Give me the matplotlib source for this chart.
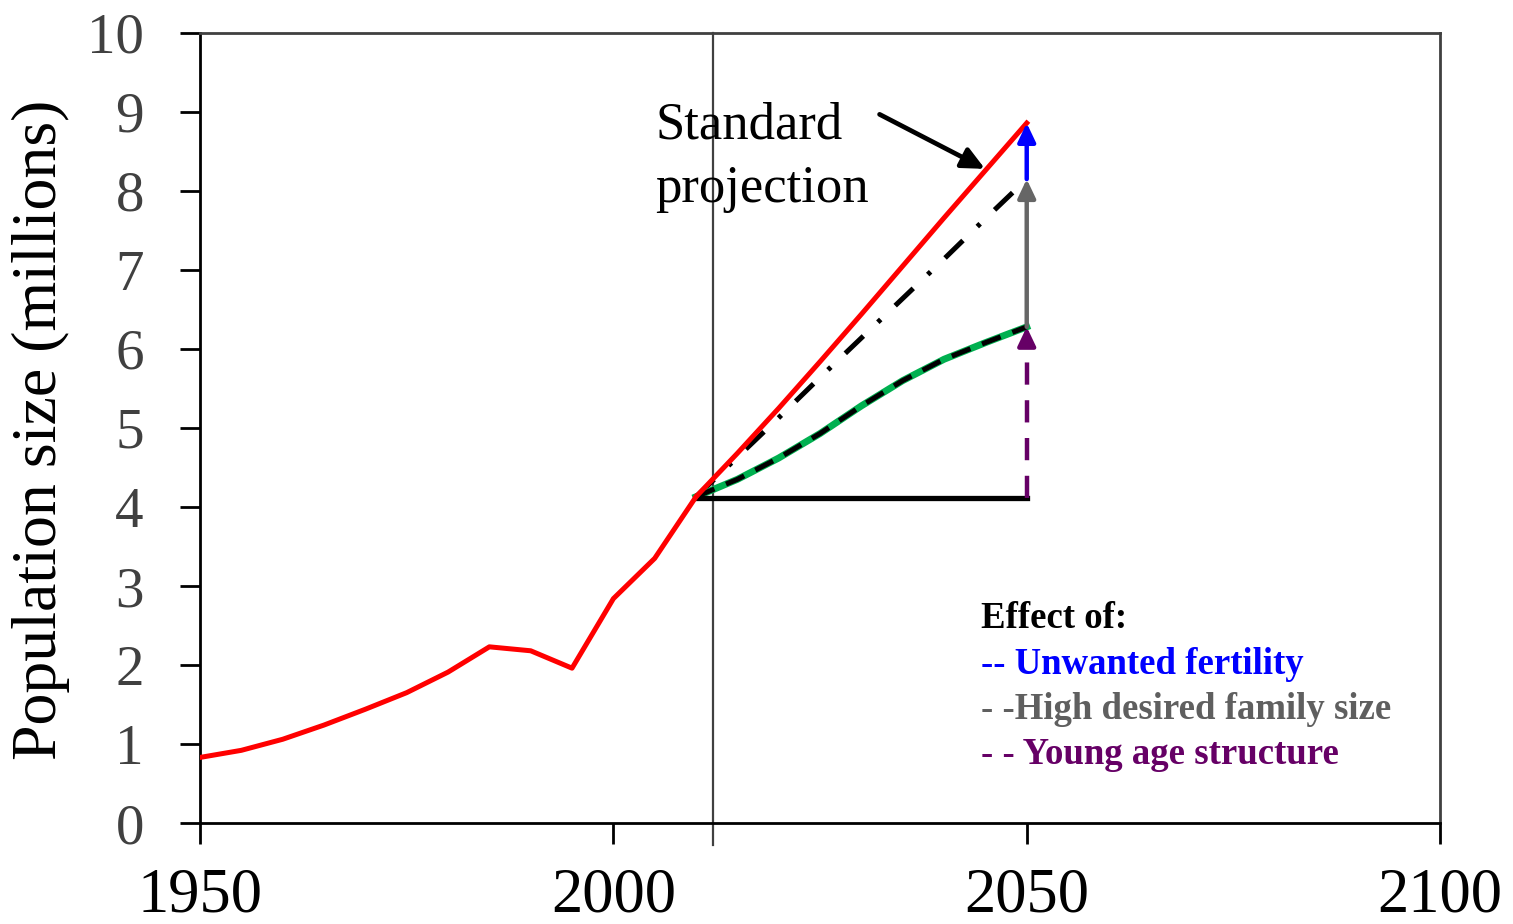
import matplotlib

matplotlib.use("Agg")

import matplotlib.pyplot as plt

# historical series (millions)
hist_years = [1950, 1955, 1960, 1965, 1970, 1975, 1980, 1985, 1990, 1995, 2000, 2005, 2010]
hist_pop = [0.83, 0.92, 1.06, 1.24, 1.44, 1.65, 1.91, 2.23, 2.18, 1.96, 2.84, 3.35, 4.13]

# projections 2010-2050
proj_years = [2010, 2015, 2020, 2025, 2030, 2035, 2040, 2045, 2050]
standard_proj = [4.13, 4.68, 5.25, 5.84, 6.44, 7.05, 7.66, 8.26, 8.86]
no_unwanted_proj = [4.13, 4.63, 5.13, 5.64, 6.14, 6.64, 7.14, 7.65, 8.15]
replacement_proj = [4.13, 4.35, 4.62, 4.93, 5.28, 5.60, 5.87, 6.08, 6.28]
momentum_years = [2010, 2050]
momentum_level = [4.12, 4.12]

base_year = 2012
end_year = 2050

legend_title = "Effect of:"
legend_lines = ["-- Unwanted fertility", "- -High desired family size", "- - Young age structure"]
legend_colors = ["#0000FF", "#5F5F5F", "#660066"]

plt.rcParams["font.family"] = ["Liberation Serif", "DejaVu Serif"]

fig = plt.figure(figsize=(15.13, 9.24), dpi=100)
ax = fig.add_axes([0.1322, 0.1093, 0.8196, 0.855])

ax.plot(hist_years, hist_pop, color="#FF0000", linewidth=3.6, zorder=4)
ax.plot(proj_years, standard_proj, color="#FF0000", linewidth=3.6, zorder=4)
ax.plot(proj_years, no_unwanted_proj, color="black", linewidth=3.6,
        linestyle=(0, (5, 4, 0.8, 4)), zorder=3)
ax.plot(proj_years, replacement_proj, color="#00B050", linewidth=5.0, zorder=3)
ax.plot(proj_years, replacement_proj, color="black", linewidth=3.6,
        linestyle=(0, (4, 2.5)), zorder=3)
ax.plot(momentum_years, momentum_level, color="black", linewidth=3.8, zorder=3)

head = "-|>,head_length=0.8,head_width=0.38"

# effect arrows at 2050
ax.annotate("", xy=(end_year, standard_proj[-1]), xytext=(end_year, no_unwanted_proj[-1]),
            arrowprops=dict(arrowstyle=head, mutation_scale=14, color="#0000FF",
                            linewidth=3.2, shrinkA=0, shrinkB=0), zorder=5)
ax.annotate("", xy=(end_year, no_unwanted_proj[-1]), xytext=(end_year, replacement_proj[-1]),
            arrowprops=dict(arrowstyle=head, mutation_scale=14, color="#666666",
                            linewidth=3.2, shrinkA=0, shrinkB=0), zorder=5)
ax.plot([end_year, end_year], [momentum_level[-1], replacement_proj[-1] - 0.2],
        color="#660066", linewidth=3.2, linestyle=(0, (5, 3.5)), zorder=5)
ax.annotate("", xy=(end_year, replacement_proj[-1]), xytext=(end_year, replacement_proj[-1] - 0.25),
            arrowprops=dict(arrowstyle=head, mutation_scale=14, color="#660066",
                            linewidth=3.2, shrinkA=0, shrinkB=0), zorder=5)

# base year marker line, runs below the axis like a tick
ax.plot([base_year, base_year], [-0.28, 10], color="#404040", linewidth=1.6,
        clip_on=False, zorder=2)

ax.text(0.367, 0.867, "Standard", transform=ax.transAxes, fontsize=38,
        va="baseline", ha="left")
ax.text(0.367, 0.786, "projection", transform=ax.transAxes, fontsize=38,
        va="baseline", ha="left")
ax.annotate("", xy=(0.633, 0.828), xytext=(0.548, 0.897), xycoords="axes fraction",
            arrowprops=dict(arrowstyle=head, mutation_scale=17, color="black",
                            linewidth=3.4, shrinkA=0, shrinkB=0))

ax.text(0.63, 0.259, legend_title, transform=ax.transAxes, fontsize=26.5,
        fontweight="bold", color="black", va="center", ha="left")
for i, (txt, col) in enumerate(zip(legend_lines, legend_colors)):
    ax.text(0.63, 0.201 - i * 0.057, txt, transform=ax.transAxes, fontsize=26.5,
            fontweight="bold", color=col, va="center", ha="left")

ax.set_xlim(1950, 2100)
ax.set_ylim(0, 10)
ax.set_xticks([1950, 2000, 2050, 2100])
ax.set_yticks(range(0, 11))

ax.tick_params(axis="x", direction="out", length=15, width=2, pad=17,
               labelsize=45, colors="black")
ax.tick_params(axis="y", direction="out", length=14.5, width=2, pad=26,
               labelsize=41, labelcolor="#404040", color="black")

for side in ["left", "bottom"]:
    ax.spines[side].set_linewidth(2)
    ax.spines[side].set_color("black")
for side in ["top", "right"]:
    ax.spines[side].set_linewidth(2)
    ax.spines[side].set_color("#404040")

ax.set_ylabel("Population size (millions)", fontsize=46, color="black")
ax.yaxis.set_label_coords(-0.105, 0.497)

fig.savefig("out.png", dpi=100)
